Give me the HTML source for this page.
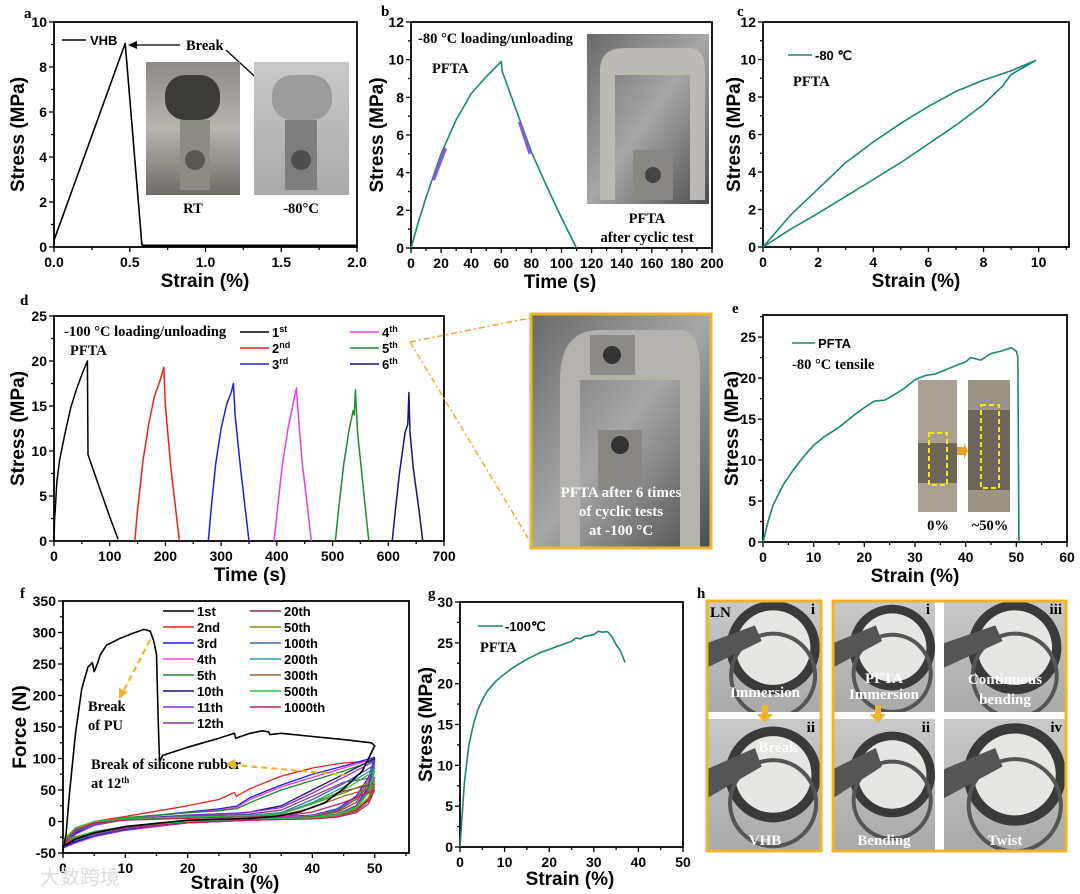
<!DOCTYPE html>
<html><head><meta charset="utf-8">
<style>
html,body{margin:0;padding:0;background:#fff;}
svg{display:block;}
.tk{font-family:"Liberation Sans",Arial,sans-serif;font-weight:bold;font-size:14px;fill:#000;}
.at{font-family:"Liberation Sans",Arial,sans-serif;font-weight:bold;font-size:19px;fill:#000;}
.sr{font-family:"Liberation Serif","Times New Roman",serif;font-weight:bold;font-size:14.5px;fill:#000;}
.lg{font-family:"Liberation Sans",Arial,sans-serif;font-weight:bold;font-size:13px;fill:#000;}
.pl{font-family:"Liberation Serif",serif;font-weight:bold;font-size:15px;fill:#000;}
.wt{font-family:"Liberation Serif",serif;font-weight:bold;font-size:15px;fill:#fff;}
</style></head>
<body>
<svg id="fig" width="1080" height="894" viewBox="0 0 1080 894" xmlns="http://www.w3.org/2000/svg">
<defs>
<linearGradient id="ph1" x1="0" y1="0" x2="0" y2="1"><stop offset="0" stop-color="#8d8a86"/><stop offset="0.5" stop-color="#b9b4ad"/><stop offset="1" stop-color="#6f6b66"/></linearGradient>
<linearGradient id="ph2" x1="0" y1="0" x2="1" y2="1"><stop offset="0" stop-color="#6a6a6a"/><stop offset="0.5" stop-color="#a7a7a7"/><stop offset="1" stop-color="#4c4c4c"/></linearGradient>
<linearGradient id="ph3" x1="0" y1="0" x2="0" y2="1"><stop offset="0" stop-color="#c9c9c9"/><stop offset="1" stop-color="#a9a9a9"/></linearGradient>
</defs>
<g id="root"></g>
<text x="40" y="884" style="font-family:'Noto Sans CJK SC',sans-serif;font-size:20px;fill:#dcdcdc;">大数跨境</text>
</svg>
<script>
// ---------- data ----------
const aStrain=[0,0.47,0.58,0.6,2.0];
const aStress=[0.3,9.05,0.1,0.05,0.05];
const bTime=[0,5,10,20,30,40,50,60,60.5,70,80,90,100,110];
const bStress=[0,1.4,2.7,5.0,6.8,8.2,9.1,9.9,9.4,7.3,5.1,3.3,1.6,0];
const cLoadX=[0,1,2,3,4,5,6,7,8,9,9.9];
const cLoadY=[0,1.7,3.1,4.5,5.6,6.6,7.5,8.3,8.9,9.4,9.95];
const cUnX=[9.9,9,8.7,8,7,6,5,4,3,2,1,0];
const cUnY=[9.95,9.2,8.6,7.6,6.5,5.5,4.5,3.6,2.7,1.8,0.95,0];
const dC1T=[0,1,2,5,10,20,30,40,50,60,61,80,100,115];
const dC1S=[0,2.5,3.2,6.5,9,12,14.8,16.8,18.5,20,9.6,6.2,2.7,0.2];
const dC2T=[145,150,160,170,180,190,197,200,210,225];
const dC2S=[0,3.5,9,13,16,17.8,19.3,15,8,0];
const dC3T=[277,282,290,300,310,318,322,325,335,350];
const dC3S=[0,3.5,8.5,12.5,15.2,16.5,17.5,14,8,0];
const dC4T=[395,400,410,420,430,435,438,445,462];
const dC4S=[0,3,8.5,12.5,15.5,17,14.5,9,0];
const dC5T=[505,510,520,530,537,539,541,545,555,565];
const dC5S=[0,3,8.5,12.5,14.5,14,16.8,12,6,0];
const dC6T=[607,612,620,630,635,637,639,645,655,662];
const dC6S=[0,3,7.5,12,13,16.5,12,8,3.5,0];
const eStrain=[0,1,2,4,6,8,10,12,15,18,20,22,24,26,28,30,32,34,36,38,40,41,43,45,47,49,50,50.3,50.5];
const eStress=[0,2.5,4.5,7,8.8,10.4,11.8,12.8,14,15.5,16.4,17.2,17.3,18,18.8,19.8,20.3,20.5,21,21.5,22,22.5,22.2,23,23.3,23.7,23.3,22.5,0];
const gStrain=[0,0.5,1,2,3,4,5,6,8,10,12,15,18,20,22,25,26,27,28,30,31,32,33,34,35,36,37];
const gStress=[0,4,8,12.5,15,16.8,18,19,20.3,21.2,22,23,23.8,24.2,24.6,25.2,25.6,25.5,25.8,26,26.4,26.3,26.4,25.8,24.8,24,22.6];
// panel f
const f1X=[0,0.5,1,2,3,4,4.7,5,5.5,6,7,9,11,13,14,14.6,15,15.3,15.5,16,20,25,27.5,27.7,30,32,33,33.2,35,40,45,49.5,50,48,45,42,38,34,30,20,10,5,2,0];
const f1Y=[-45,-20,40,140,210,245,252,238,250,265,280,290,298,305,302,285,265,150,95,105,118,132,140,132,140,144,142,138,140,135,130,125,120,80,52,30,15,8,5,2,-8,-18,-28,-40];
const fLoadX=[0,2,5,10,20,25,27.5,27.8,30,35,40,45,50];
const fUnX=[50,49,47,44,40,30,20,10,5,2,0];
const f2L=[-40,-15,0,8,25,35,46,40,52,72,85,93,96];
const f2U=[96,60,30,15,8,4,0,-10,-20,-30,-40];
const f3L=[-42,-20,-5,5,15,20,24,24,38,58,75,88,102];
const f3U=[102,70,40,20,10,5,0,-12,-22,-32,-42];
const f4L=[-40,-18,-4,5,14,18,22,22,35,55,70,85,100];
const f4U=[100,65,38,18,9,4,-1,-12,-22,-32,-40];
const f5L=[-38,-14,-2,6,14,17,20,20,30,50,65,80,97];
const f5U=[97,60,35,17,8,3,-1,-10,-20,-30,-38];
const f10L=[-40,-18,-5,4,10,12,13,13,15,25,50,75,100];
const f10U=[100,55,25,12,6,3,-1,-12,-22,-32,-40];
const f11L=[-42,-20,-6,3,10,12,13,13,15,22,45,70,96];
const f11U=[96,52,24,11,5,2,-2,-14,-24,-34,-42];
const f12L=[-38,-16,-4,4,9,10,11,11,12,18,40,62,70];
const f12U=[70,45,22,10,5,2,-2,-11,-20,-29,-38];
const f20L=[-36,-14,-3,4,7,8,8,8,9,12,30,48,60];
const f20U=[60,35,18,10,6,3,-1,-10,-18,-28,-36];
const f50L=[-36,-14,-3,4,7,8,9,9,9,12,28,45,65];
const f50U=[65,38,20,10,6,3,-1,-10,-19,-28,-36];
const f100L=[-38,-16,-4,3,8,9,10,10,10,14,35,60,90];
const f100U=[90,50,24,12,6,3,-1,-11,-21,-30,-38];
const f200L=[-35,-12,-2,4,7,8,9,9,9,13,30,55,85];
const f200U=[85,45,22,11,6,3,0,-9,-18,-27,-35];
const f300L=[-34,-12,-2,3,6,7,8,8,8,10,22,40,55];
const f300U=[55,32,16,8,5,2,-1,-9,-18,-26,-34];
const f500L=[-30,-10,0,5,7,8,9,9,9,12,28,50,80];
const f500U=[80,45,22,11,6,3,0,-8,-16,-24,-30];
const f1000L=[-36,-14,-3,2,5,6,7,7,7,8,15,30,50];
const f1000U=[50,28,14,7,4,2,-2,-10,-19,-28,-36];
const fLegendNames=["1st","2nd","3rd","4th","5th","10th","11th","12th","20th","50th","100th","200th","300th","500th","1000th"];
const fLegendColors=["#000","#e8221c","#1f1fe0","#e83ce8","#1c8c2c","#14147a","#8a2be2","#8a3a8a","#8b2a3a","#8a8a1a","#3a6ab0","#2a9a9a","#a0622a","#2ac03a","#c0206a"];
const dLegendNames=["1","2","3","4","5","6"];
const dLegendSups=["st","nd","rd","th","th","th"];
const dLegendColors=["#000","#e8221c","#1f1fe0","#e83ce8","#1c8c2c","#14147a"];

// ---------- helpers ----------
const NS="http://www.w3.org/2000/svg";
const root=document.getElementById('root');
const defs=document.querySelector('defs');
function el(tag,attrs,parent,txt){const e=document.createElementNS(NS,tag);for(const k in attrs)e.setAttribute(k,attrs[k]);if(txt!==undefined)e.textContent=txt;(parent||root).appendChild(e);return e;}
function axes(c){
  const g=el('g',{});
  
  
  const sx=v=>c.x0+(v-c.xd[0])/(c.xd[1]-c.xd[0])*(c.x1-c.x0);
  const sy=v=>c.y0-(v-c.yd[0])/(c.yd[1]-c.yd[0])*(c.y0-c.y1);
  for(let v=c.xd[0];v<=c.xd[1]+1e-9;v+=c.xm){const X=sx(v);const major=Math.abs(((v-c.xt[0])/c.xs)-Math.round((v-c.xt[0])/c.xs))<1e-6;el('line',{x1:X,x2:X,y1:c.y0,y2:c.y0+(major?5:3),stroke:'#000','stroke-width':1.3},g);}
  for(let v=c.yd[0];v<=c.yd[1]+1e-9;v+=c.ym){const Y=sy(v);const major=Math.abs(((v-c.yt[0])/c.ys)-Math.round((v-c.yt[0])/c.ys))<1e-6;el('line',{x1:c.x0,x2:c.x0-(major?5:3),y1:Y,y2:Y,stroke:'#000','stroke-width':1.3},g);}
  c.xt.forEach((v,i)=>{const t=el('text',{x:sx(v),y:c.y0+20,'text-anchor':'middle',class:'tk'},g,c.xl[i]);});
  c.yt.forEach((v,i)=>{const t=el('text',{x:c.x0-7,y:sy(v)+5,'text-anchor':'end',class:'tk'},g,c.yl[i]);});
  const xt=el('text',{x:c.xtx,y:c.y0+(c.xoff||40),'text-anchor':'middle',class:'at'},g,c.xtitle);
  
  const yt=el('text',{x:0,y:0,'text-anchor':'middle',class:'at',transform:`translate(${c.ytx},${(c.y0+c.y1)/2}) rotate(-90)`},g,c.ytitle);
  
  const fr=el('rect',{x:c.x0,y:c.y1,width:c.x1-c.x0,height:c.y0-c.y1,fill:'none',stroke:'#000','stroke-width':1.8},g);
  
  return {sx,sy};
}
function line(ax,xs,ys,color,name,w){
  const p=xs.map((x,i)=>ax.sx(x).toFixed(1)+','+ax.sy(ys[i]).toFixed(1)).join(' ');
  const l=el('polyline',{points:p,fill:'none',stroke:color,'stroke-width':w||1.6,'stroke-linejoin':'round'});
  
  
  return l;
}
function txt(x,y,s,cls,name,anchor){const t=el('text',{x,y,class:cls,'text-anchor':anchor||'start'},root,s);return t;}
function rng(a,b,s){const r=[];for(let v=a;v<=b+1e-9;v+=s)r.push(+v.toFixed(6));return r;}
function photo(x,y,w,h,fill,name,parent){const r=el('rect',{x,y,width:w,height:h,fill},parent);return r;}
const TEAL="#1b8677";

// panel letters
[['a',24,18],['b',381,16],['c',737,16],['d',20,305],['e',732,313],['f',20,598],['g',428,598],['h',697,598]].forEach(p=>{txt(p[1],p[2],p[0],'pl','panel-label-'+p[0]);});

// ---------- panel a ----------
(function(){
const xt=rng(0,2,0.5),yt=rng(0,10,2);
const ax=axes({name:'panel-a',x0:54,x1:357,y0:247,y1:22,xd:[0,2],yd:[0,10],xt,xl:xt.map(v=>v.toFixed(1)),xs:0.5,xm:0.25,yt,yl:yt.map(String),ys:2,ym:1,xtx:205,ytx:24,xtitle:'Strain (%)',ytitle:'Stress (MPa)'});
line(ax,aStrain,aStress,'#000','vhb-curve',1.6);
el('line',{x1:ax.sx(0.58),x2:ax.sx(2),y1:ax.sy(0)-1,y2:ax.sy(0)-1,stroke:'#000','stroke-width':3});
el('line',{x1:62,x2:86,y1:40,y2:40,stroke:'#000','stroke-width':1.6});
txt(90,45,'VHB','lg','legend-vhb');
txt(186,50,'Break','sr','break-label');
el('line',{x1:180,y1:45,x2:134,y2:45,stroke:'#000','stroke-width':1.3});
el('polygon',{points:'128,45 137,41 137,49',fill:'#000'});
el('line',{x1:226,y1:50,x2:300,y2:118,stroke:'#000','stroke-width':1.3});
el('polygon',{points:'304,122 295,118 300,113',fill:'#000'});
photo(146,62,94,133,'url(#ph1)','photo-rt');
el('rect',{x:165,y:75,width:55,height:45,rx:20,fill:'#3d3b38'});
el('rect',{x:180,y:120,width:30,height:70,fill:'#8f8a82'});
el('circle',{cx:195,cy:160,r:10,fill:'#5a5753'});
photo(254,62,95,133,'url(#ph3)','photo-minus80');
el('rect',{x:272,y:75,width:60,height:45,rx:20,fill:'#9c9c9c'});
el('rect',{x:285,y:120,width:32,height:70,fill:'#7e7e7e'});
el('circle',{cx:301,cy:160,r:10,fill:'#4e4e4e'});
txt(193,213,'RT','sr','label-rt','middle');
txt(301,213,'-80°C','sr','label-minus80','middle');
})();

// ---------- panel b ----------
(function(){
const xt=rng(0,200,20),yt=rng(0,12,2);
const ax=axes({name:'panel-b',x0:411,x1:712,y0:248,y1:22,xd:[0,200],yd:[0,12],xt,xl:xt.map(String),xs:20,xm:10,yt,yl:yt.map(String),ys:2,ym:1,xtx:560,ytx:383,xtitle:'Time (s)',ytitle:'Stress (MPa)'});
line(ax,bTime,bStress,TEAL,'loading-unloading-curve',1.6);
el('line',{x1:ax.sx(15),y1:ax.sy(3.6),x2:ax.sx(23),y2:ax.sy(5.3),stroke:'#8a5ad8','stroke-width':3});
el('line',{x1:ax.sx(72),y1:ax.sy(6.7),x2:ax.sx(79),y2:ax.sy(5.0),stroke:'#8a5ad8','stroke-width':3});
txt(418,43,'-80 °C loading/unloading','sr','annotation-condition');
txt(432,73,'PFTA','sr','annotation-pfta');
photo(587,34,122,170,'url(#ph2)','photo-after-cyclic');
el('path',{d:'M600,200 L600,70 Q600,48 625,48 L690,48 Q705,48 705,70 L705,200 L690,200 L690,75 L615,75 L615,200 Z',fill:'#bdbab5'});
el('rect',{x:633,y:150,width:40,height:50,fill:'#8a8782'});
el('circle',{cx:653,cy:175,r:8,fill:'#444'});
txt(647,223,'PFTA','sr','label-pfta','middle');
txt(647,242,'after cyclic test','sr','label-after-cyclic','middle');
})();

// ---------- panel c ----------
(function(){
const xt=rng(0,10,2),yt=rng(0,12,2);
const ax=axes({name:'panel-c',x0:763,x1:1069,y0:247,y1:22,xd:[0,11.1],yd:[0,12],xt,xl:xt.map(String),xs:2,xm:1,yt,yl:yt.map(String),ys:2,ym:1,xtx:916,ytx:740,xtitle:'Strain (%)',ytitle:'Stress (MPa)'});
line(ax,cLoadX,cLoadY,TEAL,'loading-curve',1.6);
line(ax,cUnX,cUnY,TEAL,'unloading-curve',1.6);
el('line',{x1:788,x2:812,y1:55,y2:55,stroke:TEAL,'stroke-width':1.6});
txt(815,60,'-80 ℃','lg','legend-minus80');
txt(793,86,'PFTA','sr','annotation-pfta-c');
})();

// ---------- panel d ----------
(function(){
const xt=rng(0,700,100),yt=rng(0,25,5);
const ax=axes({name:'panel-d',x0:54,x1:444,y0:541,y1:316,xd:[0,700],yd:[0,25],xt,xl:xt.map(String),xs:100,xm:50,yt,yl:yt.map(String),ys:5,ym:2.5,xtx:250,ytx:24,xtitle:'Time (s)',ytitle:'Stress (MPa)'});
const series=[[dC1T,dC1S],[dC2T,dC2S],[dC3T,dC3S],[dC4T,dC4S],[dC5T,dC5S],[dC6T,dC6S]];
series.forEach((s,i)=>line(ax,s[0],s[1],dLegendColors[i],'cycle-'+(i+1)+'-curve',1.5));
txt(64,336,'-100 °C loading/unloading','sr','annotation-condition-d');
txt(70,355,'PFTA','sr','annotation-pfta-d');
dLegendNames.forEach((n,i)=>{
  const col=Math.floor(i/3),row=i%3;
  const lx=col?350:240, ly=332+row*16;
  el('line',{x1:lx,x2:lx+29,y1:ly,y2:ly,stroke:dLegendColors[i],'stroke-width':1.6});
  const t=el('text',{x:lx+32,y:ly+5,class:'lg'},root,n);
  
  
  el('tspan',{dy:-5,'font-size':9},t,dLegendSups[i]);
});
el('line',{x1:410,y1:342,x2:530,y2:318,stroke:'#f0a830','stroke-width':1.5,'stroke-dasharray':'6,3,2,3'});
el('line',{x1:410,y1:342,x2:528,y2:538,stroke:'#f0a830','stroke-width':1.5,'stroke-dasharray':'6,3,2,3'});
})();

// middle photo
(function(){
photo(531,314,180,234,'url(#ph2)','photo-after-six-cycles');
el('path',{d:'M560,548 L560,380 Q560,330 600,330 L680,330 Q700,330 700,370 L700,548 L680,548 L680,380 L580,380 L580,548 Z',fill:'#b5b2ad'});
el('rect',{x:590,y:335,width:45,height:40,fill:'#8e8b86'});
el('circle',{cx:612,cy:355,r:9,fill:'#333'});
el('rect',{x:598,y:430,width:44,height:60,fill:'#8a8782'});
el('circle',{cx:620,cy:445,r:9,fill:'#333'});
el('rect',{x:531,y:314,width:180,height:234,fill:'none',stroke:'#f0b429','stroke-width':3});
txt(621,497,'PFTA after 6 times','wt','photo-caption-1','middle');
txt(621,516,'of cyclic tests','wt','photo-caption-2','middle');
txt(621,535,'at -100 °C','wt','photo-caption-3','middle');
})();

// ---------- panel e ----------
(function(){
const xt=rng(0,60,10),yt=rng(0,25,5);
const ax=axes({name:'panel-e',x0:763,x1:1067,y0:542,y1:315,xd:[0,60],yd:[0,27.7],xt,xl:xt.map(String),xs:10,xm:5,yt,yl:yt.map(String),ys:5,ym:2.5,xtx:915,ytx:738,xtitle:'Strain (%)',ytitle:'Stress (MPa)'});
line(ax,eStrain,eStress,TEAL,'tensile-curve',1.6);
el('line',{x1:792,x2:815,y1:343,y2:343,stroke:TEAL,'stroke-width':1.6});
txt(818,348,'PFTA','lg','legend-pfta-e');
txt(792,369,'-80 °C tensile','sr','annotation-tensile');
photo(918,380,39,132,'#a99f92','inset-0-percent');
el('rect',{x:918,y:443,width:39,height:40,fill:'#6e6658'});
el('rect',{x:929,y:433,width:18,height:52,fill:'none',stroke:'#f3e61a','stroke-width':2,'stroke-dasharray':'5,3'});
photo(968,380,42,132,'#9c9486','inset-50-percent');
el('rect',{x:968,y:410,width:42,height:80,fill:'#6e6658'});
el('rect',{x:981,y:405,width:18,height:83,fill:'none',stroke:'#f3e61a','stroke-width':2,'stroke-dasharray':'5,3'});
el('polygon',{points:'957,447 964,447 964,443 968,451 964,459 964,455 957,455',fill:'#e8a020'});
txt(938,530,'0%','sr','label-0-percent','middle');
txt(990,530,'~50%','sr','label-50-percent','middle');
})();

// ---------- panel f ----------
(function(){
const xt=rng(0,50,10),yt=rng(-50,350,50);
const ax=axes({name:'panel-f',x0:63,x1:409,y0:853,y1:601,xd:[0,55.5],yd:[-50,350],xt,xl:xt.map(String),xs:10,xm:5,yt,yl:yt.map(String),ys:50,ym:25,xtx:235,ytx:26,xoff:36,xtitle:'Strain (%)',ytitle:'Force (N)'});
const loops=[[f2L,f2U],[f3L,f3U],[f4L,f4U],[f5L,f5U],[f10L,f10U],[f11L,f11U],[f12L,f12U],[f20L,f20U],[f50L,f50U],[f100L,f100U],[f200L,f200U],[f300L,f300U],[f500L,f500U],[f1000L,f1000U]];
loops.forEach((lp,i)=>{
  line(ax,fLoadX,lp[0],fLegendColors[i+1],'cycle-'+fLegendNames[i+1]+'-loading',1.3);
  line(ax,fUnX,lp[1],fLegendColors[i+1],'cycle-'+fLegendNames[i+1]+'-unloading',1.3);
});
line(ax,f1X,f1Y,'#000','cycle-1st-curve',1.6);
fLegendNames.forEach((n,i)=>{
  const col=i<8?0:1,row=col?i-8:i;
  const lx=col?250:163, ly=611+row*16;
  el('line',{x1:lx,x2:lx+31,y1:ly,y2:ly,stroke:fLegendColors[i],'stroke-width':1.6});
  txt(lx+34,ly+5,n,'lg','legend-'+n);
});
txt(88,711,'Break','sr','annotation-break-pu-1');
txt(88,730,'of PU','sr','annotation-break-pu-2');
txt(91,769,'Break  of  silicone  rubber','sr','annotation-break-silicone');
const t=txt(91,788,'at 12','sr','annotation-at-12th');
el('tspan',{dy:-5,'font-size':9},t,'th');
el('line',{x1:150,y1:640,x2:123,y2:692,stroke:'#f0b429','stroke-width':2.2,'stroke-dasharray':'6,4'});
el('polygon',{points:'119,699 119,688 128,692',fill:'#f0b429'});
el('line',{x1:347,y1:775,x2:234,y2:765,stroke:'#f0b429','stroke-width':2.2,'stroke-dasharray':'6,4'});
el('polygon',{points:'226,764 235,759 235,770',fill:'#f0b429'});
})();

// ---------- panel g ----------
(function(){
const xt=rng(0,50,10),yt=rng(0,30,5);
const ax=axes({name:'panel-g',x0:460,x1:683,y0:847,y1:602,xd:[0,50],yd:[0,30],xt,xl:xt.map(String),xs:10,xm:5,yt,yl:yt.map(String),ys:5,ym:2.5,xtx:570,ytx:432,xoff:38,xtitle:'Strain (%)',ytitle:'Stress (MPa)'});
line(ax,gStrain,gStress,TEAL,'tensile-curve-g',1.6);
el('line',{x1:478,x2:503,y1:626,y2:626,stroke:TEAL,'stroke-width':1.6});
txt(505,631,'-100℃','lg','legend-minus100');
txt(480,652,'PFTA','sr','annotation-pfta-g');
})();

// ---------- panel h ----------
(function(){
let cid=0;
function cell(x,y,w,h,name){
  const id='hc'+(cid++);
  const cp=el('clipPath',{id},defs);
  el('rect',{x,y,width:w,height:h},cp);
  const g=el('g',{'clip-path':`url(#${id})`});
  photo(x,y,w,h,'url(#ph3)',name,g);
  const cx=x+w*0.58,cy=y+h*0.42,r=Math.min(w,h)*0.42;
  el('circle',{cx,cy,r,fill:'#3a3a3a'},g);
  el('circle',{cx,cy,r:r*0.8,fill:'#e6e6e2'},g);
  el('circle',{cx,cy:cy+r*0.6,r:r*0.9,fill:'none',stroke:'#555','stroke-width':4},g);
  el('polygon',{points:`${x},${y+h*0.38} ${x+w*0.42},${y+h*0.22} ${x+w*0.48},${y+h*0.36} ${x},${y+h*0.6}`,fill:'#555'},g);
}
cell(707,601,114,111,'photo-vhb-immersion');
cell(707,719,114,132,'photo-vhb-break');
cell(833,601,102,111,'photo-pfta-immersion');
cell(944,601,122,111,'photo-continuous-bending');
cell(833,719,102,132,'photo-bending');
cell(944,719,122,132,'photo-twist');
el('rect',{x:707,y:601,width:114,height:250,fill:'none',stroke:'#f0b429','stroke-width':3});
el('rect',{x:833,y:601,width:233,height:250,fill:'none',stroke:'#f0b429','stroke-width':3});
[[765,705],[878,705]].forEach(p=>{el('rect',{x:p[0]-3,y:p[1],width:6,height:9,fill:'#f0b429'});el('polygon',{points:`${p[0]-8},${p[1]+9} ${p[0]+8},${p[1]+9} ${p[0]},${p[1]+18}`,fill:'#f0b429'});});
txt(710,617,'LN','pl','label-ln');
txt(815,614,'i','pl','label-i-left','end');
txt(930,614,'i','pl','label-i-right','end');
txt(1062,614,'iii','pl','label-iii','end');
txt(815,732,'ii','pl','label-ii-left','end');
txt(930,732,'ii','pl','label-ii-right','end');
txt(1062,732,'iv','pl','label-iv','end');
txt(765,697,'Immersion','wt','label-immersion-vhb','middle');
txt(778,752,'Break','wt','label-break','middle');
txt(765,845,'VHB','wt','label-vhb','middle');
txt(884,683,'PFTA','wt','label-pfta-h','middle');
txt(884,699,'Immersion','wt','label-immersion-pfta','middle');
txt(1005,684,'Continuous','wt','label-continuous','middle');
txt(1005,704,'bending','wt','label-bending-cont','middle');
txt(884,845,'Bending','wt','label-bending','middle');
txt(1005,845,'Twist','wt','label-twist','middle');
})();
</script>
</body></html>
